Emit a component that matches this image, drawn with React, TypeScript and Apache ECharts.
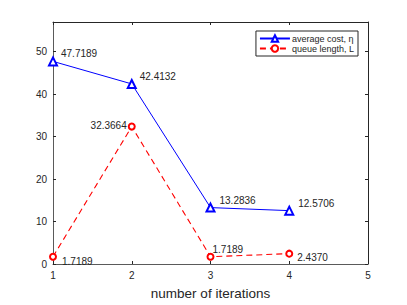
import React, { useEffect, useRef } from "react";
import * as echarts from "echarts";

const iterations = [1, 2, 3, 4];
const averageCost = [47.7189, 42.4132, 13.2836, 12.5706];
const queueLength = [1.7189, 32.3664, 1.7189, 2.437];
const costLabels = ["47.7189", "42.4132", "13.2836", "12.5706"];
const queueLabels = ["1.7189", "32.3664", "1.7189", "2.4370"];
const xTicks = [1, 2, 3, 4, 5];
const yTicks = [0, 10, 20, 30, 40, 50];

const costOffsets: [number, number][] = [[8, -8], [8, -7], [9, -7], [9, -7]];
const queueOffsets: [number, number][] = [[9, 5], [-5, -1], [2, -7], [8, 4]];

const TXT = "#262626";
const FONT = "Liberation Sans, Arial, sans-serif";

export default function App() {
  const ref = useRef<HTMLDivElement>(null);
  useEffect(() => {
    if (!ref.current) return;
    const chart = echarts.init(ref.current, undefined, { renderer: "svg" });
    const mk = (vals: number[], labels: string[], offs: [number, number][], leftIdx: number[]) =>
      vals.map((v, i) => ({
        value: [iterations[i], v],
        label: {
          show: true,
          position: "inside",
          align: leftIdx.includes(i) ? "right" : "left",
          verticalAlign: "middle",
          offset: offs[i],
          formatter: labels[i],
          color: TXT,
          fontSize: 10,
          fontFamily: FONT,
        },
      }));
    const baseX = {
      type: "value" as const,
      min: 1,
      max: 5,
      interval: 1,
      splitLine: { show: false },
      axisLine: { show: true, onZero: false, lineStyle: { color: "#5a5a5a", width: 1 } },
      axisTick: { show: true, inside: true, length: 3, lineStyle: { color: "#262626" } },
    };
    const baseY = {
      type: "value" as const,
      min: 0,
      max: 57,
      interval: 10,
      splitLine: { show: false },
      axisLine: { show: true, onZero: false, lineStyle: { color: "#5a5a5a", width: 1 } },
      axisTick: { show: true, inside: true, length: 3, customValues: yTicks, lineStyle: { color: "#262626" } },
    };
    chart.setOption({
      animation: false,
      backgroundColor: "#ffffff",
      textStyle: { fontFamily: FONT },
      grid: { left: 53, top: 22, width: 315, height: 249 },
      legend: {
        right: 49,
        top: 31,
        orient: "vertical",
        backgroundColor: "#fff",
        borderColor: "#262626",
        borderWidth: 1,
        borderRadius: 0,
        padding: [3, 4, 3, 3],
        itemGap: 1,
        itemWidth: 30,
        itemHeight: 8,
        textStyle: { fontSize: 9, color: TXT, fontFamily: FONT, padding: [0, 0, 0, -3] },
        data: ["average cost, η", "queue length, L"],
      },
      xAxis: [
        {
          ...baseX,
          position: "bottom",
          name: "number of iterations",
          nameLocation: "middle",
          nameGap: 22,
          nameTextStyle: { fontSize: 13.5, color: TXT, fontFamily: FONT },
          axisLabel: { color: TXT, fontSize: 10, margin: 6, fontFamily: FONT, customValues: xTicks },
        },
        {
          ...baseX,
          position: "top",
          axisLine: { show: true, onZero: false, lineStyle: { color: "#262626", width: 1 } },
          axisLabel: { show: false },
        },
      ],
      yAxis: [
        {
          ...baseY,
          position: "left",
          axisLabel: { color: TXT, fontSize: 10, margin: 6, fontFamily: FONT, customValues: yTicks },
        },
        {
          ...baseY,
          position: "right",
          axisLine: { show: true, onZero: false, lineStyle: { color: "#262626", width: 1 } },
          axisLabel: { show: false },
        },
      ],
      series: [
        {
          name: "average cost, η",
          type: "line",
          xAxisIndex: 0,
          yAxisIndex: 0,
          data: mk(averageCost, costLabels, costOffsets, []),
          symbol: "emptyTriangle",
          symbolSize: 8,
          lineStyle: { color: "#0000ff", width: 1 },
          itemStyle: { color: "#0000ff", borderColor: "#0000ff", borderWidth: 1 },
          z: 3,
        },
        {
          name: "queue length, L",
          type: "line",
          xAxisIndex: 0,
          yAxisIndex: 0,
          data: mk(queueLength, queueLabels, queueOffsets, [1]),
          symbol: "emptyCircle",
          symbolSize: 6,
          lineStyle: { color: "#ff0000", width: 1.1, type: [6, 4] },
          itemStyle: { color: "#ff0000", borderColor: "#ff0000", borderWidth: 1.1 },
          z: 2,
        },
      ],
    });
    return () => chart.dispose();
  }, []);
  return <div ref={ref} style={{ width: 407, height: 305, position: "absolute", left: 0, top: 0 }} />;
}
